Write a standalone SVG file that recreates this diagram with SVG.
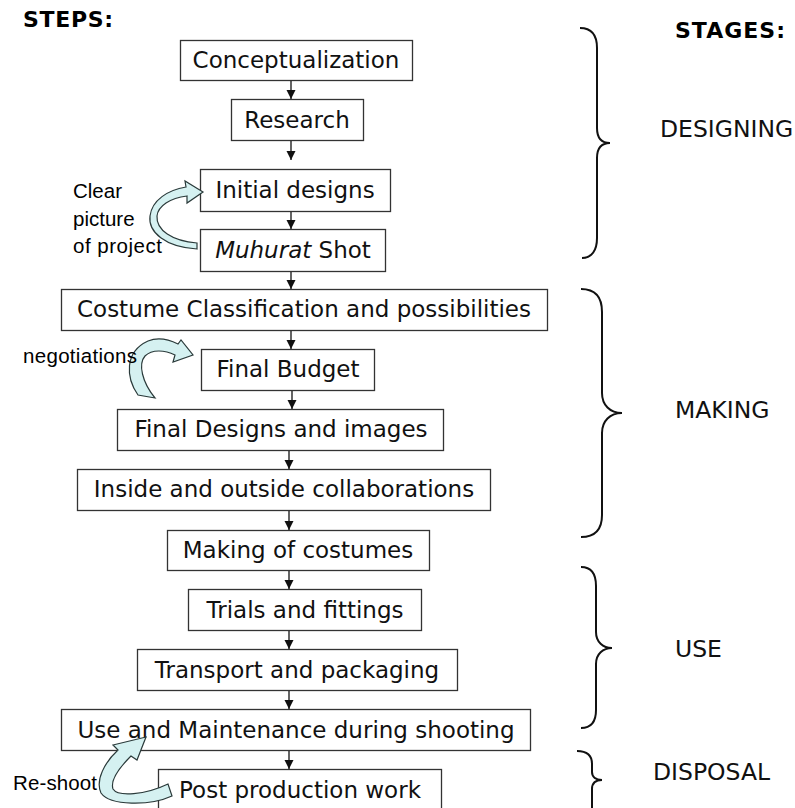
<svg xmlns="http://www.w3.org/2000/svg" width="795" height="808" viewBox="0 0 795 808">
<style>
.box{fill:#fff;stroke:#333;stroke-width:1.3}
.bt{font-family:"DejaVu Sans",Verdana,sans-serif;font-size:23px;fill:#111;text-anchor:middle}
.hd{font-family:"DejaVu Sans",Verdana,sans-serif;font-size:22px;font-weight:bold;fill:#000}
.st{font-family:"DejaVu Sans",Verdana,sans-serif;font-size:23.5px;fill:#111}
.lb{font-family:"Liberation Sans",Arial,sans-serif;font-size:20.5px;fill:#000}
.ar{stroke:#111;stroke-width:1.3;fill:none}
.br{stroke:#111;stroke-width:2;fill:none}
.ca{fill:#d5f1f1;stroke:#2a3a3a;stroke-width:1.2}
</style>
<defs>
<marker id="ah" markerUnits="userSpaceOnUse" markerWidth="10" markerHeight="10" refX="9" refY="5" orient="auto">
<path d="M0,0.5 L9,5 L0,9.5 z" fill="#111"/>
</marker>
</defs>
<text class="hd" x="23" y="27" textLength="90">STEPS:</text>
<text class="hd" x="675" y="38" textLength="110">STAGES:</text>
<g id="n1"><rect class="box" x="180.5" y="40.5" width="232" height="40"/><text class="bt" x="296" y="68">Conceptualization</text></g>
<g id="n2"><rect class="box" x="231.5" y="99.5" width="132" height="41"/><text class="bt" x="297" y="128">Research</text></g>
<g id="n3"><rect class="box" x="200.5" y="169.5" width="190" height="42"/><text class="bt" x="295" y="198">Initial designs</text></g>
<g id="n4"><rect class="box" x="200.5" y="229.5" width="185" height="42"/><text class="bt" x="293" y="258"><tspan font-style="italic">Muhurat</tspan> Shot</text></g>
<g id="n5"><rect class="box" x="61.5" y="289.5" width="486" height="41"/><text class="bt" x="304" y="317">Costume Classification and possibilities</text></g>
<g id="n6"><rect class="box" x="201.5" y="349.5" width="173" height="41"/><text class="bt" x="288" y="377">Final Budget</text></g>
<g id="n7"><rect class="box" x="117.5" y="409.5" width="326" height="41"/><text class="bt" x="281" y="437">Final Designs and images</text></g>
<g id="n8"><rect class="box" x="77.5" y="469.5" width="413" height="41"/><text class="bt" x="284" y="497">Inside and outside collaborations</text></g>
<g id="n9"><rect class="box" x="167.5" y="530.5" width="262" height="40"/><text class="bt" x="298" y="558">Making of costumes</text></g>
<g id="n10"><rect class="box" x="188.5" y="589.5" width="233" height="41"/><text class="bt" x="305" y="618">Trials and fittings</text></g>
<g id="n11"><rect class="box" x="137.5" y="649.5" width="320" height="41"/><text class="bt" x="297" y="678">Transport and packaging</text></g>
<g id="n12"><rect class="box" x="61.5" y="709.5" width="469" height="41"/><text class="bt" x="296" y="738">Use and Maintenance during shooting</text></g>
<g id="n13"><rect class="box" x="158.5" y="769.5" width="283" height="50"/><text class="bt" x="300" y="798">Post production work</text></g>
<g id="connectors">
<line class="ar" x1="291" y1="81" x2="291" y2="99" marker-end="url(#ah)"/>
<line class="ar" x1="291" y1="141" x2="291" y2="160" marker-end="url(#ah)"/>
<line class="ar" x1="291" y1="212" x2="291" y2="229" marker-end="url(#ah)"/>
<line class="ar" x1="291" y1="272" x2="291" y2="289" marker-end="url(#ah)"/>
<line class="ar" x1="291" y1="331" x2="291" y2="349" marker-end="url(#ah)"/>
<line class="ar" x1="292" y1="391" x2="292" y2="409" marker-end="url(#ah)"/>
<line class="ar" x1="289" y1="451" x2="289" y2="469" marker-end="url(#ah)"/>
<line class="ar" x1="289" y1="511" x2="289" y2="530" marker-end="url(#ah)"/>
<line class="ar" x1="289" y1="571" x2="289" y2="589" marker-end="url(#ah)"/>
<line class="ar" x1="289" y1="631" x2="289" y2="649" marker-end="url(#ah)"/>
<line class="ar" x1="289" y1="691" x2="289" y2="709" marker-end="url(#ah)"/>
<line class="ar" x1="289" y1="751" x2="289" y2="769" marker-end="url(#ah)"/>
<path class="ca" d="M197,249 C165,247 148,232 150,216 C152,200 168,190 186,187 L185,181 L203,192 L187,203 L187,196 C170,198 158,206 157,216 C156,230 172,241 197,243 Z"/>
<path class="ca" d="M138,395 C126,378 124,352 148,341 C158,337 168,339 178,344 L181,340 L193,355 L173,362 L175,355 C165,350 152,349 145,356 C138,364 142,382 155,398 Z"/>
<path class="ca" d="M172,796 C150,806 110,806 101,793 C95,780 105,762 118,750 L113,745 L146,737 L137,760 L131,756 C120,767 110,780 113,789 C118,797 145,795 168,784 Z"/>
</g>
<text class="lb" x="73" y="198">Clear</text>
<text class="lb" x="73" y="226">picture</text>
<text class="lb" x="73" y="253" textLength="89">of project</text>
<text class="lb" x="23" y="363" textLength="114">negotiations</text>
<text class="lb" x="13" y="790" textLength="84">Re-shoot</text>
<path class="br" d="M580,28 C592,28 597,36 597,48 L597,128 C597,138 602,143 610,143 C602,143 597,148 597,158 L597,238 C597,250 592,258 582,258"/>
<path class="br" d="M581,289 C595,289 602,297 602,312 L602,393 C602,405 610,413 622,413 C610,413 602,421 602,433 L602,515 C602,530 595,537 581,537"/>
<path class="br" d="M581,567 C591,567 596,574 596,586 L596,632 C596,642 603,648 612,648 C603,648 596,654 596,664 L596,710 C596,722 591,728 581,728"/>
<path class="br" d="M577,751 C588,751 592,756 592,764 L592,772 C592,777 596,780 602,780 C596,780 592,783 592,789 L592,815"/>
<text class="st" x="660" y="137">DESIGNING</text>
<text class="st" x="675" y="418">MAKING</text>
<text class="st" x="675" y="657">USE</text>
<text class="st" x="653" y="780">DISPOSAL</text>
</svg>
